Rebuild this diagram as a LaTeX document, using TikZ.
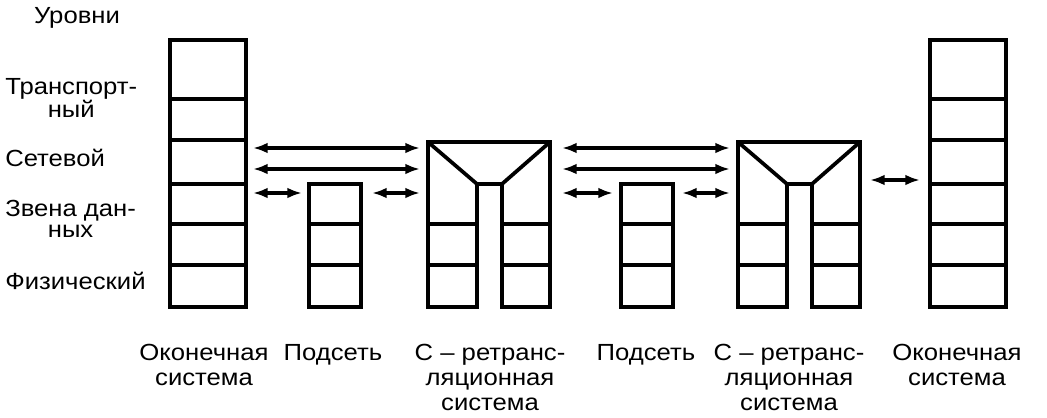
\documentclass[tikz,border=0pt]{standalone}
\usepackage{fontspec}
\setmainfont{Liberation Sans}[FakeStretch=1.1]
\usetikzlibrary{arrows.meta}
\begin{document}
\begin{tikzpicture}[x=0.75pt,y=-0.75pt,
  every node/.style={font=\fontsize{17.5}{18.75}\selectfont, inner sep=0pt, align=center},
  level/.style={anchor=west, font=\fontsize{17.5}{16}\selectfont},
  box/.style={line width=2.8pt},
  link/.style={line width=2.4pt, {Latex[length=11pt,width=8pt]}-{Latex[length=11pt,width=8pt]}}]
\useasboundingbox (0,0) rectangle (1047,418);

% end systems
\foreach \x in {170,930} {
  \draw[box] (\x,40) rectangle (\x+76,307);
  \foreach \y in {99,140,184,224,265} \draw[box] (\x,\y) -- (\x+76,\y);
}
% subnets
\foreach \x in {309,621} {
  \draw[box] (\x,184) rectangle (\x+52,307);
  \foreach \y in {224,265} \draw[box] (\x,\y) -- (\x+52,\y);
}
% relay systems
\foreach \x in {428,738} {
  \draw[box] (\x,307) -- (\x,142) -- (\x+122,142) -- (\x+122,307) -- (\x+74,307)
    -- (\x+74,184) -- (\x+49,184) -- (\x+49,307) -- cycle;
  \draw[box] (\x,142) -- (\x+49,184) (\x+122,142) -- (\x+74,184);
  \foreach \y in {224,265} \draw[box] (\x,\y) -- (\x+49,\y) (\x+74,\y) -- (\x+122,\y);
}

\coordinate (t1) at (253,148);
\coordinate (t2) at (420,148);
\coordinate (n1) at (253,169);
\coordinate (n2) at (420,169);
\coordinate (d1) at (253,193);
\coordinate (d2) at (302,193);
\coordinate (d3) at (372,193);
\coordinate (d4) at (420,193);
\coordinate (t3) at (562,148);
\coordinate (t4) at (730,148);
\coordinate (n3) at (562,169);
\coordinate (n4) at (730,169);
\coordinate (d5) at (562,193);
\coordinate (d6) at (613,193);
\coordinate (d7) at (682,193);
\coordinate (d8) at (730,193);
\coordinate (e1) at (870,180);
\coordinate (e2) at (920,180);

\draw[link] (t1) -- (t2);
\draw[link] (n1) -- (n2);
\draw[link] (d1) -- (d2);
\draw[link] (d3) -- (d4);
\draw[link] (t3) -- (t4);
\draw[link] (n3) -- (n4);
\draw[link] (d5) -- (d6);
\draw[link] (d7) -- (d8);
\draw[link] (e1) -- (e2);

% level names
\node (lvl) at (77,18) {Уровни};
\node[level] (lt) at (5,98) {Транспорт-\\ный};
\node[level] (ln) at (5,158) {Сетевой};
\node[level] (ld) at (5,219) {Звена дан-\\ных};
\node[level] (lp) at (5,281) {Физический};

% system names
\node[anchor=north] (es1) at (204,344) {Оконечная\\система};
\node[anchor=north] (sn1) at (333,344) {Подсеть};
\node[anchor=north] (rs1) at (490,344) {С -- ретранс-\\ляционная\\система};
\node[anchor=north] (sn2) at (646,344) {Подсеть};
\node[anchor=north] (rs2) at (789,344) {С -- ретранс-\\ляционная\\система};
\node[anchor=north] (es2) at (957,344) {Оконечная\\система};
\end{tikzpicture}
\end{document}
